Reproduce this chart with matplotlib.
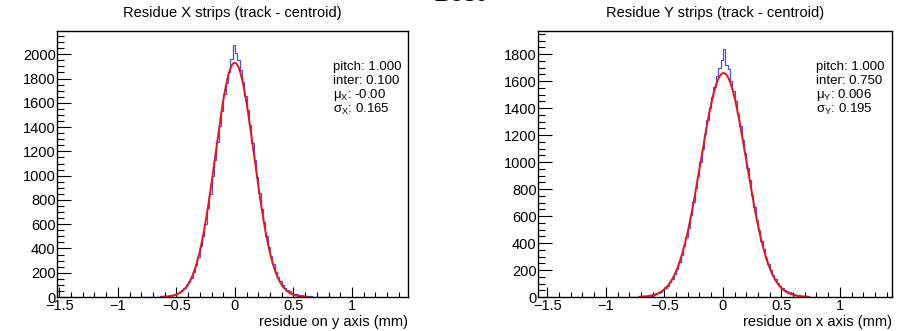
import numpy as np
import matplotlib
matplotlib.use('Agg')
import matplotlib.pyplot as plt
from matplotlib.ticker import MultipleLocator

plt.rcParams['font.family'] = ['Liberation Sans', 'DejaVu Sans']
plt.rcParams['mathtext.fontset'] = 'custom'
plt.rcParams['mathtext.rm'] = 'Liberation Sans'
plt.rcParams['mathtext.it'] = 'Liberation Sans'

# histogram binning (counts per 0.02 mm bin, starting at -0.80)
bin_lo = -0.80
bin_width = 0.02

counts_x = [0, 1, 1, 1, 2,
            2, 3, 4, 5, 7, 9, 11, 15, 20, 26,
            34, 44, 57, 74, 96, 125, 160, 208, 262, 330,
            420, 500, 605, 735, 850, 1000, 1125, 1280, 1405, 1535,
            1670, 1765, 1850, 1960, 2075,
            2010, 1950, 1870, 1770, 1660, 1540, 1420, 1270, 1130, 990,
            860, 725, 615, 505, 415, 335, 268, 210, 165, 128,
            100, 78, 60, 46, 36, 28, 22, 17, 13, 10,
            8, 6, 5, 3, 2, 2, 1, 1, 1, 0]

counts_y = [0, 1, 1, 2, 2, 3, 4, 6, 8, 11,
            16, 21, 29, 38, 50, 65, 84, 108, 136, 171,
            211, 259, 314, 377, 447, 515, 611, 702, 810, 900,
            1003, 1095, 1205, 1310, 1400, 1480, 1560, 1640, 1700, 1760,
            1840, 1720, 1690, 1600, 1530, 1450, 1360, 1270, 1160, 1070,
            955, 865, 755, 670, 570, 500, 415, 355, 290, 245,
            200, 160, 130, 102, 82, 65, 52, 42, 34, 27,
            21, 16, 12, 9, 7, 5, 4, 3, 2, 1]

# gaussian fit results
fit_amp = [1930, 1660]
fit_mu = [-0.002, 0.006]
fit_sigma = [0.165, 0.195]
fit_range = [0.62, 0.72]

titles = ['Residue X strips (track - centroid)', 'Residue Y strips (track - centroid)']
xlabels = ['residue on y axis (mm)', 'residue on x axis (mm)']
stats = [['pitch: 1.000', 'inter: 0.100', r'$\mu_X$: -0.00', r'$\sigma_X$: 0.165'],
         ['pitch: 1.000', 'inter: 0.750', r'$\mu_Y$: 0.006', r'$\sigma_Y$: 0.195']]
ylims = [2190, 1970]
xlims = [(-1.52, 1.48), (-1.58, 1.445)]

fig = plt.figure(figsize=(9.05, 3.31), dpi=100)
fig.patch.set_facecolor('white')
positions = [[0.063, 0.1027, 0.388, 0.803], [0.5945, 0.1027, 0.391, 0.803]]

for i, counts in enumerate([counts_x, counts_y]):
	ax = fig.add_axes(positions[i])
	counts = np.array(counts, dtype=float)
	edges = bin_lo + bin_width * np.arange(len(counts) + 1)
	ax.stairs(counts, edges, color='#5050cc', lw=0.9)

	xs = np.linspace(fit_mu[i] - fit_range[i], fit_mu[i] + fit_range[i], 400)
	ys = fit_amp[i] * np.exp(-0.5 * ((xs - fit_mu[i]) / fit_sigma[i]) ** 2)
	ax.plot(xs, ys, color='#e8141e', lw=1.4)

	ax.set_xlim(*xlims[i])
	ax.set_ylim(0, ylims[i])
	ax.xaxis.set_major_locator(MultipleLocator(0.5))
	ax.xaxis.set_minor_locator(MultipleLocator(0.1))
	ax.yaxis.set_major_locator(MultipleLocator(200))
	ax.yaxis.set_minor_locator(MultipleLocator(50))
	ax.xaxis.set_major_formatter(plt.FuncFormatter(lambda v, p: ('%g' % v).replace('-', '\u2212')))
	ax.tick_params(which='both', direction='in', top=False, right=False, labelsize=10.5)
	ax.tick_params(axis='x', which='major', length=7, width=0.8, pad=1.5)
	ax.tick_params(axis='x', which='minor', length=3.5, width=0.8)
	ax.tick_params(axis='y', which='major', length=10, width=0.8, pad=1)
	ax.tick_params(axis='y', which='minor', length=5, width=0.8)
	for sp in ax.spines.values():
		sp.set_linewidth(1.0)

	ax.set_title(titles[i], fontsize=10.5, pad=10)
	ax.set_xlabel(xlabels[i], fontsize=10.5, loc='right', labelpad=1.5)

	for k, line in enumerate(stats[i]):
		ax.text(0.785, 0.865 - k * 0.053, line, transform=ax.transAxes,
			fontsize=9.5, va='center', ha='left')

# page title, mostly off the top edge as in the original
fig.text(0.507, 0.996, 'Best', fontsize=17, fontweight='bold', ha='center', va='baseline')

plt.savefig('out.png', dpi=100)
